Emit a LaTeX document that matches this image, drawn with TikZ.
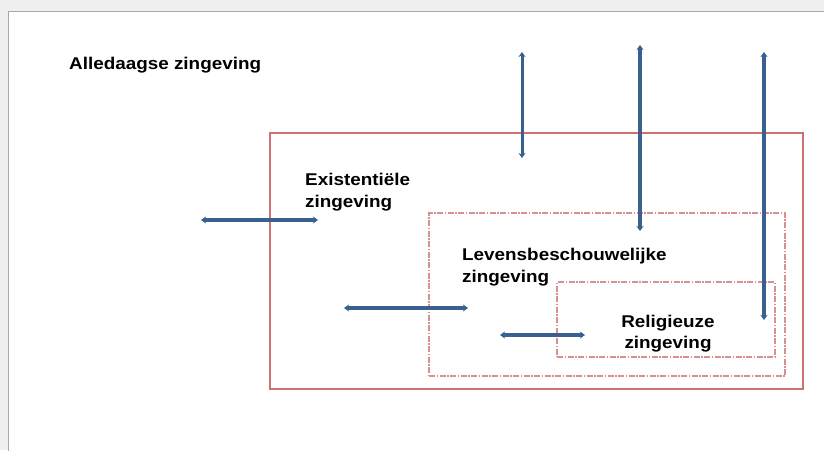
\documentclass[tikz,border=0pt]{standalone}
\usepackage{fontspec}
\setmainfont{Liberation Sans}[FakeStretch=1.11]
\usetikzlibrary{arrows.meta}
\definecolor{arrblue}{HTML}{3A6090}
\definecolor{boxred}{HTML}{D07070}
\definecolor{dashred}{HTML}{D89090}
\definecolor{framegrey}{HTML}{A8A8A8}
\definecolor{bggrey}{HTML}{F0F0F0}
\begin{document}
\begin{tikzpicture}[x=1pt,y=-1pt,
  lbl/.style={inner sep=0pt,font=\fontsize{17}{22}\selectfont\bfseries,align=left},
  lblc/.style={inner sep=0pt,font=\fontsize{17}{21}\selectfont\bfseries,align=center},
  dbl/.style={draw=arrblue,line width=#1,{Stealth[length=5pt,width=7pt]}-{Stealth[length=5pt,width=7pt]}},
  solidbox/.style={draw=boxred,line width=1.2pt,inner sep=0pt},
  dashbox/.style={draw=dashred,line width=1.2pt,inner sep=0pt,dash pattern=on 6pt off 1.5pt on 1.5pt off 1.5pt}]
\useasboundingbox (0,0) rectangle (824,450);
\fill[bggrey] (0,0) rectangle (824,450);
\filldraw[fill=white,draw=framegrey,line width=1.5pt] (8.5,11.5) rectangle (830,456);
% boxes
\node[solidbox,minimum width=533pt,minimum height=256pt] (outer) at (536.5,261) {};
\node[dashbox,minimum width=356pt,minimum height=163pt] (mid) at (607,294.5) {};
\node[dashbox,minimum width=218pt,minimum height=75pt] (inner) at (666,319.5) {};
% labels
\node[lbl,anchor=base west] (all) at (69,69) {Alledaagse zingeving};
\node[lbl,anchor=base west] (ex1) at (305,185) {Existentiële};
\node[lbl,anchor=base west] (ex2) at (305,207) {zingeving};
\node[lbl,anchor=base west] (lv1) at (462,260) {Levensbeschouwelijke};
\node[lbl,anchor=base west] (lv2) at (462,282) {zingeving};
\node[lblc,anchor=base] (re1) at (668,327) {Religieuze};
\node[lblc,anchor=base] (re2) at (668,348) {zingeving};
% arrow endpoints
\coordinate (h1a) at (201,220); \coordinate (h1b) at (318,220);
\coordinate (h2a) at (344,308); \coordinate (h2b) at (468,308);
\coordinate (h3a) at (500,335); \coordinate (h3b) at (585,335);
\coordinate (v1a) at (522,52);  \coordinate (v1b) at (522,158);
\coordinate (v2a) at (640,45);  \coordinate (v2b) at (640,231);
\coordinate (v3a) at (764,52);  \coordinate (v3b) at (764,320);
\draw[dbl=3.2pt] (h1a) -- (h1b);
\draw[dbl=3.2pt] (h2a) -- (h2b);
\draw[dbl=3.2pt] (h3a) -- (h3b);
\draw[dbl=3pt] (v1a) -- (v1b);
\draw[dbl=3.5pt] (v2a) -- (v2b);
\draw[dbl=4.5pt] (v3a) -- (v3b);
\end{tikzpicture}
\end{document}
